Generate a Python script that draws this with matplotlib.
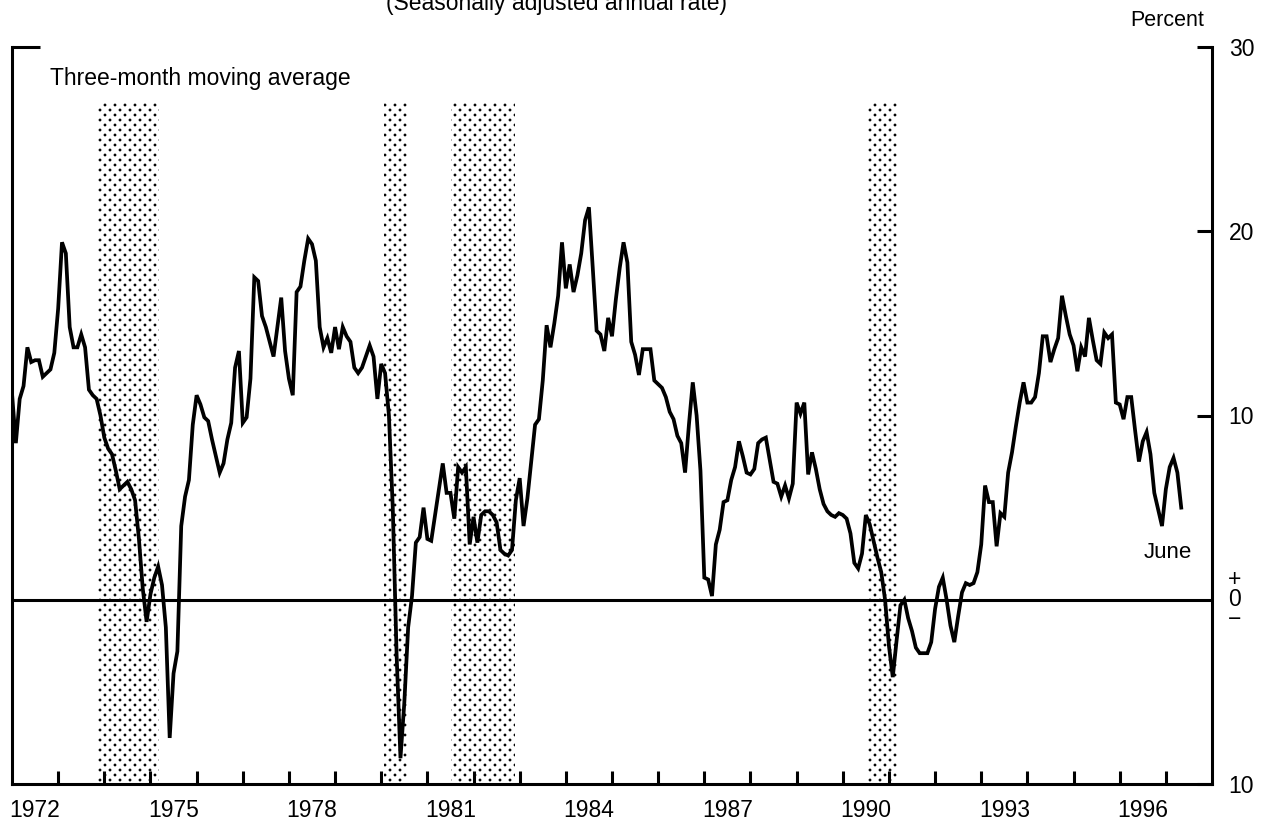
import numpy as np
import matplotlib
matplotlib.use("Agg")
import matplotlib.pyplot as plt
import matplotlib.hatch as mhatch
from matplotlib.path import Path

plt.rcParams['font.family'] = ['Liberation Sans', 'DejaVu Sans']
plt.rcParams['hatch.linewidth'] = 0.8

# Monthly values (percent, 3-month moving average, SAAR), Jan 1972 onward
growth_1972_1975 = [
    11.2, 8.5, 10.9, 11.6, 13.7, 12.9, 13.0, 13.0, 12.1, 12.3, 12.5, 13.4,
    15.8, 19.4, 18.8, 14.8, 13.7, 13.7, 14.4, 13.7, 11.4, 11.1, 10.9, 10.0,
    8.8, 8.2, 7.9, 7.0, 6.0, 6.2, 6.4, 6.0, 5.4, 3.3, 0.6, -1.2,
    0.3, 1.2, 1.8, 0.8, -1.5, -7.5, -4.0, -2.8, 4.0, 5.6, 6.5, 9.5,
]
growth_1976_1979 = [
    11.1, 10.6, 9.9, 9.7, 8.7, 7.8, 6.9, 7.4, 8.7, 9.6, 12.6, 13.5,
    9.6, 9.9, 12.0, 17.5, 17.3, 15.4, 14.8, 14.0, 13.2, 14.8, 16.4, 13.5,
    12.0, 11.1, 16.7, 17.0, 18.4, 19.6, 19.3, 18.4, 14.8, 13.7, 14.2, 13.4,
    14.8, 13.6, 14.8, 14.3, 14.0, 12.6, 12.3, 12.6, 13.2, 13.8, 13.2, 10.9,
]
growth_1980_1983 = [
    12.8, 12.3, 10.0, 5.0, -3.0, -8.6, -5.6, -1.5, 0.2, 3.1, 3.4, 5.0,
    3.3, 3.2, 4.6, 6.0, 7.4, 5.8, 5.8, 4.4, 7.2, 6.9, 7.2, 3.0,
    4.5, 3.1, 4.6, 4.8, 4.8, 4.6, 4.2, 2.7, 2.5, 2.4, 2.7, 5.4,
    6.6, 4.0, 5.5, 7.5, 9.5, 9.8, 11.9, 14.9, 13.7, 15.0, 16.5, 19.4,
]
growth_1984_1987 = [
    16.9, 18.2, 16.7, 17.6, 18.8, 20.6, 21.3, 18.0, 14.6, 14.4, 13.5, 15.3,
    14.3, 16.3, 18.0, 19.4, 18.3, 14.0, 13.3, 12.2, 13.6, 13.6, 13.6, 11.9,
    11.7, 11.5, 11.0, 10.2, 9.8, 8.9, 8.5, 6.9, 9.5, 11.8, 10.0, 7.0,
    1.2, 1.1, 0.2, 3.0, 3.8, 5.3, 5.4, 6.5, 7.2, 8.6, 7.8, 6.9,
]
growth_1988_1991 = [
    6.8, 7.1, 8.5, 8.7, 8.8, 7.6, 6.4, 6.3, 5.6, 6.2, 5.5, 6.3,
    10.7, 10.1, 10.7, 6.8, 8.0, 7.1, 6.0, 5.2, 4.8, 4.6, 4.5, 4.7,
    4.6, 4.4, 3.6, 2.0, 1.7, 2.5, 4.6, 4.1, 3.2, 2.3, 1.5, 0.0,
    -2.5, -4.2, -2.2, -0.3, 0.0, -1.0, -1.7, -2.6, -2.9, -2.9, -2.9, -2.3,
]
growth_1992_1997 = [
    -0.5, 0.7, 1.2, 0.0, -1.4, -2.3, -0.9, 0.4, 0.9, 0.8, 0.9, 1.5,
    3.0, 6.2, 5.3, 5.3, 2.9, 4.7, 4.5, 6.9, 8.0, 9.4, 10.7, 11.8,
    10.7, 10.7, 11.0, 12.3, 14.3, 14.3, 12.9, 13.6, 14.2, 16.5, 15.4, 14.4,
    13.8, 12.4, 13.7, 13.2, 15.3, 14.1, 13.0, 12.8, 14.5, 14.2, 14.4, 10.7,
    10.6, 9.8, 11.0, 11.0, 9.2, 7.5, 8.6, 9.1, 7.9, 5.8, 4.9, 4.0,
    6.0, 7.2, 7.7, 6.9, 5.0,
]
first_year = 1972

# Recessions (decimal years)
recession_starts = [1973.84, 1980.05, 1981.51, 1990.53]
recession_ends = [1975.19, 1980.56, 1982.90, 1991.18]

labeled_years = [1972, 1975, 1978, 1981, 1984, 1987, 1990, 1993, 1996]
right_ticks = [30, 20, 10, -10]
right_tick_labels = ["30", "20", "10", "10"]


# Stipple-dot hatch (rows twice as dense as columns, staggered)
class StippleDots(mhatch.HatchPatternBase):
    def __init__(self, hatch, density):
        n = hatch.count('.')
        circ = Path.unit_circle()
        self.shape_vertices = circ.vertices
        self.shape_codes = circ.codes
        self.ncols = 5 * n
        self.nrows = 10 * n
        if n == 0:
            self.num_vertices = 0
        else:
            nshapes = sum(self.ncols + (1 if r % 2 == 0 else 0)
                          for r in range(self.nrows + 1))
            self.num_vertices = nshapes * len(self.shape_vertices)

    def set_vertices_and_codes(self, vertices, codes):
        sv = self.shape_vertices * 0.0085
        pv, pc = [], []
        for r in range(self.nrows + 1):
            y = r / self.nrows
            if r % 2 == 0:
                cols = np.linspace(0, 1, self.ncols + 1)
            else:
                cols = np.linspace(0.5 / self.ncols, 1 - 0.5 / self.ncols,
                                   self.ncols)
            for x in cols:
                pv.append(sv + [x, y])
                pc.append(self.shape_codes)
        np.concatenate(pv, out=vertices)
        np.concatenate(pc, out=codes)


try:
    mhatch._hatch_types = [t for t in mhatch._hatch_types
                           if t is not mhatch.SmallFilledCircles] + [StippleDots]
except Exception:
    pass

values = np.array(growth_1972_1975 + growth_1976_1979 + growth_1980_1983 +
                  growth_1984_1987 + growth_1988_1991 + growth_1992_1997)
dates = first_year + np.arange(len(values)) / 12.0

fig = plt.figure(figsize=(12.7, 8.25), dpi=100)
ax = fig.add_axes([12 / 1270, 1 - 784 / 825, 1200 / 1270, (784 - 47) / 825])
ax.set_xlim(1972, 1998)
ax.set_ylim(-10, 30)

# recession shading
for s, e in zip(recession_starts, recession_ends):
    ax.axvspan(s, e, ymin=0, ymax=(27 + 10) / 40, facecolor='white',
               edgecolor='black', hatch='..', linewidth=0, zorder=1)

ax.axhline(0, color='black', lw=2.2, zorder=2)
ax.plot(dates, values, color='black', lw=2.7, solid_joinstyle='miter', zorder=3)

# spines
for side in ['left', 'right', 'bottom']:
    ax.spines[side].set_linewidth(2.2)
ax.spines['top'].set_visible(False)

# x ticks: year boundaries (no label) + mid-year labels
ax.set_xticks(np.arange(1973, 1998))
ax.set_xticklabels([])
ax.tick_params(axis='x', which='major', direction='in', length=9.5, width=2.2)
ax.set_xticks([y + 0.5 for y in labeled_years], minor=True)
ax.set_xticklabels([str(y) for y in labeled_years], minor=True)
ax.tick_params(axis='x', which='minor', length=0, pad=11, labelsize=16.5)

# right y axis
ax.yaxis.set_ticks_position('right')
ax.set_yticks(right_ticks)
ax.set_yticklabels(right_tick_labels)
ax.tick_params(axis='y', direction='in', length=11, width=2.2, pad=12,
               labelsize=16.5)

# left stub at top
lax = ax.secondary_yaxis('left')
lax.set_yticks([30])
lax.set_yticklabels([])
lax.tick_params(direction='in', length=20, width=2.2)
lax.spines['left'].set_visible(False)

# +0- label (single stacked text)
tr = ax.get_yaxis_transform()
ax.text(1.0185, 0, "+\n0\n\u2212", transform=tr, ha='center', va='center',
        ma='center', fontsize=16.5, linespacing=0.82)

ax.text(1972.82, 28.3, "Three-month moving average", ha='left', va='center',
        fontsize=16.5)
ax.text(1997.05, 2.55, "June", ha='center', va='center', fontsize=16)
fig.text(1167 / 1270, 1 - 20 / 825, "Percent", ha='center', va='center',
         fontsize=15.5)
fig.text(557 / 1270, 1 - 10 / 825, "(Seasonally adjusted annual rate)",
         ha='center', va='baseline', fontsize=16.5)

fig.savefig("out.png", dpi=100)
